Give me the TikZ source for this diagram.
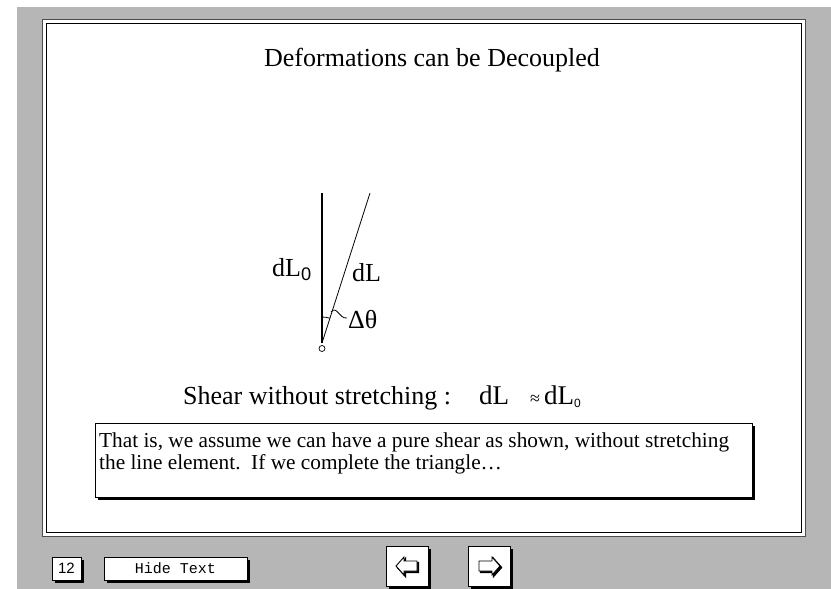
\documentclass[tikz,border=0pt]{standalone}
\usepackage{fontspec}
\setmainfont{Liberation Serif}
\newfontfamily\monofont{Liberation Mono}
\newfontfamily\sansfont{Liberation Sans}
\usetikzlibrary{shadows}
\definecolor{patgray}{RGB}{182,182,182}
\begin{document}
\begin{tikzpicture}[x=1pt,y=-1pt,
  boxed/.style={draw=black, line width=1pt, fill=white, inner sep=0pt,
    drop shadow={shadow xshift=2.5pt, shadow yshift=-2.5pt, fill=black, opacity=1}},
  lbl/.style={font=\fontsize{26}{30}\selectfont, inner sep=0pt},
  icon/.style={draw=black, line width=0.9pt, fill=white, line join=miter},
  iconshadow/.style={draw=black, line width=1.4pt, fill=black}
]
\useasboundingbox (0,0) rectangle (831,589);
\fill[white] (0,0) rectangle (831,589);
\fill[patgray] (17,7) rectangle (831,589);
% panel
\fill[white] (42,19) rectangle (806,537);
\draw[black!70, line width=1pt] (42.5,19.5) rectangle (805.5,536.5);
\draw[black, line width=1.6pt] (46.5,23.5) rectangle (801.5,532.5);

% title
\node[font=\fontsize{26}{30}\selectfont, anchor=base, inner sep=0pt] (title) at (432,66) {Deformations can be Decoupled};

% figure
\coordinate (base) at (322,343);
\coordinate (top0) at (322,193);
\coordinate (top1) at (370,193);
\draw[line width=2.2pt] (base) -- (top0);
\draw[line width=0.8pt] (base) -- (top1);
\node[circle, draw, fill=white, line width=0.7pt, minimum size=6pt, inner sep=0pt] (pivot) at (322,348.5) {};
\draw[line width=0.8pt] (322,317) arc[start angle=270, end angle=287.7, radius=26];
\coordinate (leadA) at (331,312);
\coordinate (leadB) at (347,318);
\draw[line width=0.8pt] (leadA) .. controls (337,305) and (339,319) .. (leadB);
\node[lbl, anchor=base west] (dth) at (348,328) {Δθ};
\node[lbl, anchor=base west] (l0) at (272,276) {dL\textsubscript{\sansfont 0}};
\node[lbl, anchor=base west] (l1) at (352,281) {dL};

% shear line
\node[font=\fontsize{26}{30}\selectfont, anchor=base west, inner sep=0pt] (shear) at (183,404) {Shear without stretching :};
\node[font=\fontsize{27}{30}\selectfont, anchor=base west, inner sep=0pt] (sdl) at (479,404) {dL};
\node[font=\fontsize{18}{26}\selectfont, anchor=base, inner sep=0pt] (approx) at (535,404) {≈};
\node[font=\fontsize{27}{30}\selectfont, anchor=base west, inner sep=0pt] (sdl0) at (544,404) {dL\textsubscript{\sansfont\fontsize{12}{12}\selectfont 0}};

% text box
\node[boxed, anchor=north west, minimum width=657, minimum height=74] (tb) at (95,423) {};
\node[font=\fontsize{21.3}{22}\selectfont, anchor=north west, align=left, inner sep=0pt] (tbtext) at (99,433)
  {That is, we assume we can have a pure shear as shown, without stretching\\the line element.\ \ If we complete the triangle…};

% bottom controls
\node[boxed, minimum width=29, minimum height=23, font=\sansfont\fontsize{15}{15}\selectfont] (num) at (66.5,568.5) {12};
\node[boxed, minimum width=143, minimum height=23, font=\monofont\fontsize{15}{15}\selectfont] (hide) at (175.5,568.5) {Hide Text};
\node[boxed, minimum width=42, minimum height=40] (prev) at (407,566) {};
\node[boxed, minimum width=42, minimum height=40] (next) at (489,566) {};
\begin{scope}[shift={(prev.center)}]
  \draw[iconshadow] (-9.5,1.5) -- (-1.5,-7.5) -- (-1.5,-3.5) -- (11.5,-3.5) -- (11.5,6.5) -- (-1.5,6.5) -- (-1.5,10.5) -- cycle;
  \draw[icon] (-11,0) -- (-3,-9) -- (-3,-5) -- (10,-5) -- (10,5) -- (-3,5) -- (-3,9) -- cycle;
\end{scope}
\begin{scope}[shift={(next.center)}]
  \draw[iconshadow] (12.5,1.5) -- (4.5,-7.5) -- (4.5,-3.5) -- (-8.5,-3.5) -- (-8.5,6.5) -- (4.5,6.5) -- (4.5,10.5) -- cycle;
  \draw[icon] (11,0) -- (3,-9) -- (3,-5) -- (-10,-5) -- (-10,5) -- (3,5) -- (3,9) -- cycle;
\end{scope}
\end{tikzpicture}
\end{document}
